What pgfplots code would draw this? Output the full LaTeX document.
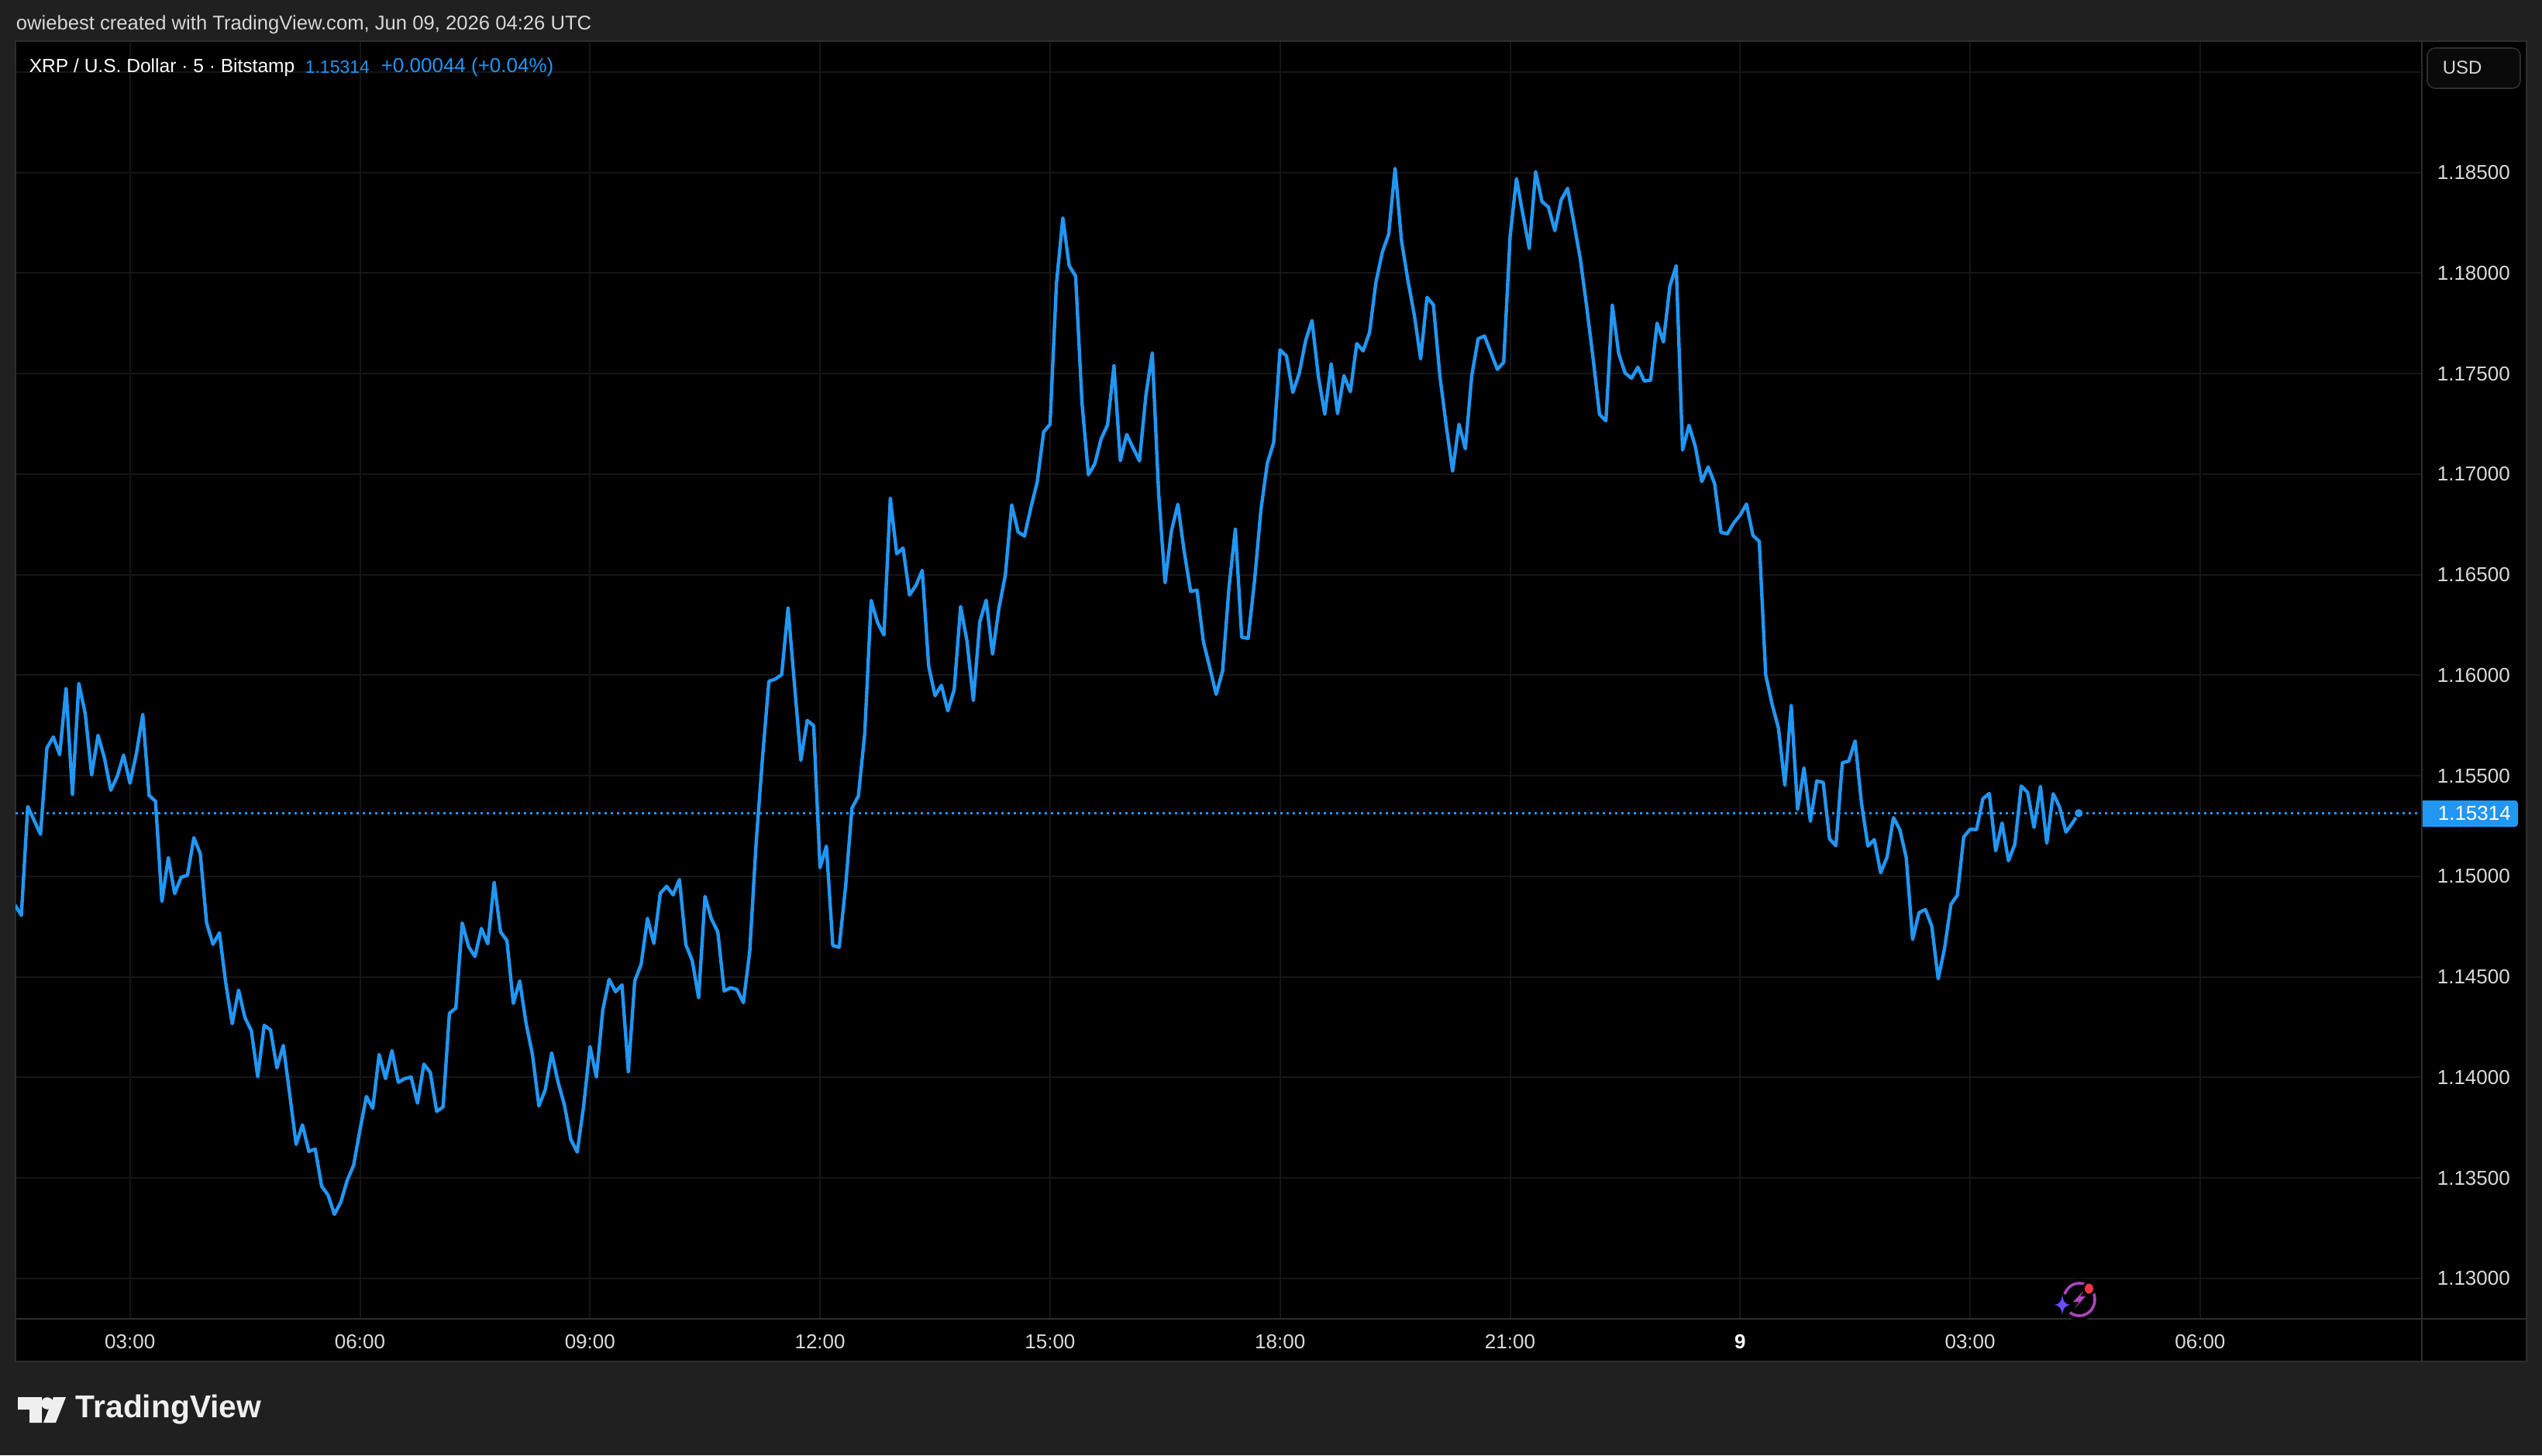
\documentclass[border=0pt]{standalone}
\usepackage{fontspec}
\setmainfont{Liberation Sans}
\usepackage{pgfplots}
\pgfplotsset{compat=1.18}
\usepackage{pgfplotstable}
\definecolor{pagebg}{HTML}{202020}
\definecolor{frameline}{HTML}{2E2E2E}
\definecolor{gridc}{HTML}{161616}
\definecolor{tvblue}{HTML}{2196F3}
\definecolor{ticktxt}{HTML}{DBDBDB}
\definecolor{hdrtxt}{HTML}{D6D6D6}
\definecolor{ringc}{HTML}{AB47BC}
\definecolor{starc}{HTML}{6A4CFF}
\definecolor{redc}{HTML}{F23645}
\pgfplotstableread{
t p
-18 1.14857
-17 1.14806
-16 1.15347
-15 1.15278
-14 1.15209
-13 1.15638
-12 1.15693
-11 1.15605
-10 1.15933
-9 1.15408
-8 1.15959
-7 1.15809
-6 1.15504
-5 1.15701
-4 1.15589
-3 1.15428
-2 1.15496
-1 1.15603
0 1.15463
1 1.15609
2 1.15805
3 1.15402
4 1.15373
5 1.14875
6 1.15093
7 1.14914
8 1.14995
9 1.15005
10 1.15192
11 1.15113
12 1.14767
13 1.14662
14 1.14719
15 1.14468
16 1.14267
17 1.14434
18 1.14297
19 1.14232
20 1.14003
21 1.14259
22 1.14236
23 1.14047
24 1.14159
25 1.13917
26 1.13667
27 1.13764
28 1.13632
29 1.13644
30 1.13459
31 1.13415
32 1.13319
33 1.13380
34 1.13488
35 1.13563
36 1.13740
37 1.13905
38 1.13846
39 1.14114
40 1.13994
41 1.14133
42 1.13976
43 1.13994
44 1.14002
45 1.13872
46 1.14066
47 1.14025
48 1.13831
49 1.13853
50 1.14319
51 1.14345
52 1.14768
53 1.14650
54 1.14601
55 1.14741
56 1.14664
57 1.14970
58 1.14724
59 1.14680
60 1.14368
61 1.14480
62 1.14268
63 1.14112
64 1.13858
65 1.13939
66 1.14122
67 1.13977
68 1.13862
69 1.13691
70 1.13629
71 1.13856
72 1.14153
73 1.14002
74 1.14335
75 1.14488
76 1.14426
77 1.14460
78 1.14029
79 1.14480
80 1.14562
81 1.14791
82 1.14666
83 1.14916
84 1.14950
85 1.14908
86 1.14984
87 1.14660
88 1.14581
89 1.14396
90 1.14900
91 1.14788
92 1.14724
93 1.14430
94 1.14446
95 1.14437
96 1.14372
97 1.14626
98 1.15166
99 1.15590
100 1.15970
101 1.15981
102 1.16003
103 1.16334
104 1.15955
105 1.15577
106 1.15775
107 1.15749
108 1.15043
109 1.15150
110 1.14656
111 1.14647
112 1.14948
113 1.15339
114 1.15399
115 1.15709
116 1.16372
117 1.16262
118 1.16200
119 1.16879
120 1.16604
121 1.16632
122 1.16399
123 1.16446
124 1.16521
125 1.16046
126 1.15898
127 1.15950
128 1.15823
129 1.15929
130 1.16342
131 1.16170
132 1.15874
133 1.16265
134 1.16373
135 1.16105
136 1.16334
137 1.16497
138 1.16847
139 1.16712
140 1.16692
141 1.16833
142 1.16962
143 1.17210
144 1.17248
145 1.17946
146 1.18274
147 1.18036
148 1.17985
149 1.17354
150 1.16997
151 1.17051
152 1.17176
153 1.17245
154 1.17539
155 1.17067
156 1.17197
157 1.17130
158 1.17066
159 1.17391
160 1.17603
161 1.16900
162 1.16460
163 1.16718
164 1.16850
165 1.16614
166 1.16417
167 1.16423
168 1.16167
169 1.16038
170 1.15905
171 1.16021
172 1.16434
173 1.16726
174 1.16189
175 1.16183
176 1.16468
177 1.16821
178 1.17053
179 1.17157
180 1.17618
181 1.17587
182 1.17406
183 1.17501
184 1.17664
185 1.17764
186 1.17484
187 1.17298
188 1.17549
189 1.17301
190 1.17490
191 1.17410
192 1.17649
193 1.17613
194 1.17704
195 1.17953
196 1.18103
197 1.18193
198 1.18520
199 1.18163
200 1.17965
201 1.17793
202 1.17573
203 1.17879
204 1.17842
205 1.17492
206 1.17243
207 1.17015
208 1.17248
209 1.17126
210 1.17489
211 1.17673
212 1.17687
213 1.17604
214 1.17521
215 1.17556
216 1.18181
217 1.18469
218 1.18293
219 1.18122
220 1.18504
221 1.18355
222 1.18328
223 1.18211
224 1.18364
225 1.18421
226 1.18248
227 1.18068
228 1.17830
229 1.17573
230 1.17297
231 1.17265
232 1.17841
233 1.17599
234 1.17503
235 1.17477
236 1.17532
237 1.17463
238 1.17467
239 1.17751
240 1.17657
241 1.17933
242 1.18036
243 1.17120
244 1.17243
245 1.17136
246 1.16963
247 1.17036
248 1.16954
249 1.16711
250 1.16703
251 1.16757
252 1.16796
253 1.16851
254 1.16696
255 1.16665
256 1.16003
257 1.15857
258 1.15737
259 1.15453
260 1.15849
261 1.15333
262 1.15539
263 1.15274
264 1.15474
265 1.15467
266 1.15186
267 1.15152
268 1.15565
269 1.15573
270 1.15673
271 1.15363
272 1.15151
273 1.15183
274 1.15018
275 1.15095
276 1.15292
277 1.15232
278 1.15093
279 1.14686
280 1.14819
281 1.14835
282 1.14752
283 1.14490
284 1.14642
285 1.14861
286 1.14906
287 1.15196
288 1.15234
289 1.15232
290 1.15386
291 1.15412
292 1.15127
293 1.15265
294 1.15077
295 1.15160
296 1.15449
297 1.15417
298 1.15243
299 1.15447
300 1.15165
301 1.15411
302 1.15344
303 1.15220
304 1.15264
305 1.15314
}\xrpdata
\newcommand{\tfs}{\fontsize{6.5pt}{7.8pt}\selectfont}
\begin{document}
\begin{tikzpicture}[x=1pt,y=1pt]
\useasboundingbox (0,0) rectangle (820pt,469.5pt);
\fill[pagebg] (0,0) rectangle (820pt,469.5pt);
\begin{scope}[x=0.25pt,y=-0.25pt,shift={(0pt,469.5pt)}]
  \fill[black] (20,53) rectangle (3260,1757);
  \draw[frameline,line width=0.5pt] (20,53) rectangle (3260,1757);
\end{scope}
\begin{axis}[
  at={(5pt,44pt)},anchor=south west,
  scale only axis,width=776.2pt,height=412.2pt,
  xmin=-17.916,xmax=358.68,
  ymin=1.127994,ymax=1.191528,
  xtick={0,36,72,108,144,180,216,252,288,324},
  xticklabels={03:00,06:00,09:00,12:00,15:00,18:00,21:00,\textbf{\textcolor{white}{9}},03:00,06:00},
  ytick={1.13,1.135,1.14,1.145,1.15,1.155,1.16,1.165,1.17,1.175,1.18,1.185},
  extra y ticks={1.19},
  extra y tick labels={},
  ticklabel pos=right,
  yticklabel pos=right,
  xticklabel pos=bottom,
  y tick label style={/pgf/number format/fixed,/pgf/number format/fixed zerofill,/pgf/number format/precision=5,/pgf/number format/assume math mode=true,font=\tfs,text=ticktxt},
  x tick label style={font=\tfs,text=ticktxt},
  xtick style={draw=none},ytick style={draw=none},
  major tick length=0pt,
  scaled y ticks=false,
  tick label style={inner sep=0pt,outer sep=0pt},
  xticklabel shift=5pt,
  yticklabel shift=5pt,
  xmajorgrids,ymajorgrids,
  major grid style={gridc,line width=0.5pt},
  axis line style={frameline,line width=0.5pt},
]
\addplot[tvblue,line width=0.7pt,dash pattern=on 0.7pt off 1.3pt,forget plot] coordinates {(-17.916,1.15314) (358,1.15314)};
\addplot[tvblue,line width=1.1pt,line join=round,forget plot] table[x=t,y=p] {\xrpdata};
\addplot[only marks,mark=*,mark size=1.5pt,mark options={fill=tvblue,draw=none},forget plot] coordinates {(305,1.15314)};
\end{axis}
\begin{scope}[x=0.25pt,y=-0.25pt,shift={(0pt,469.5pt)}]
  % right panel separators
  \draw[frameline,line width=0.5pt] (3125,1702) -- (3260,1702);
  \draw[frameline,line width=0.5pt] (3125,1702) -- (3125,1757);
  % currency box
  \draw[frameline,fill=black!70!pagebg,rounded corners=2.5pt,line width=0.4pt] (3132,62) rectangle (3252,114);
  \node[anchor=west,inner sep=0pt,text=hdrtxt,font=\fontsize{6pt}{7pt}\selectfont] at (3151,87.5) {USD};
  % last price
  \fill[tvblue,rounded corners=1pt] (3126,1033) rectangle (3249,1067);
  \fill[tvblue] (3126,1033) rectangle (3135,1067);
  \node[anchor=west,inner sep=0pt,text=white,font=\tfs] at (3145,1050) {1.15314};
  % top texts
  \node[anchor=west,inner sep=0pt,text=hdrtxt,font=\fontsize{6.41pt}{7.5pt}\selectfont] at (20,32) {owiebest created with TradingView.com, Jun 09, 2026 04:26 UTC};
  \node[anchor=west,inner sep=0pt,text=white,font=\fontsize{6.14pt}{7.5pt}\selectfont] at (37,87) {XRP / U.S. Dollar · 5 · Bitstamp};
  \node[anchor=west,inner sep=0pt,text=tvblue,font=\fontsize{5.75pt}{7.5pt}\selectfont] at (393,87) {1.15314};
  \node[anchor=west,inner sep=0pt,text=tvblue,font=\fontsize{6.5pt}{7.5pt}\selectfont] at (491,87) {+0.00044 (+0.04\%)};
  % assistant icon
  \fill[black] (2683,1677) ellipse (26 and 27);
  \fill[black] (2661,1684) circle (15);
  \draw[ringc,line width=0.9pt] (2683,1677) ellipse (20 and 21);
  \fill[ringc] (2690,1664) -- (2675,1680) -- (2683,1680) -- (2676,1690) -- (2691,1673) -- (2684,1673) -- cycle;
  \fill[black] (2661,1684) circle (14);
  \fill[starc] (2661,1670) .. controls (2662,1680) and (2664,1683) .. (2672,1684) .. controls (2664,1685) and (2662,1688) .. (2661,1698) .. controls (2660,1688) and (2658,1685) .. (2650,1684) .. controls (2658,1683) and (2660,1680) .. (2661,1670) -- cycle;
  \fill[black] (2695.5,1663) circle (9);
  \fill[redc] (2695.5,1663) ellipse (5.5 and 6.5);
  % TradingView logo
  \fill[hdrtxt!40!white] (23,1803) -- (54,1803) -- (54,1836) -- (38,1836) -- (38,1819) -- (23,1819) -- cycle;
  \fill[hdrtxt!40!white] (61,1811) circle (7.8);
  \fill[hdrtxt!40!white] (85,1803) -- (72,1836) -- (56,1836) -- (69,1803) -- cycle;
  \node[anchor=west,inner sep=0pt,text=hdrtxt!40!white,font=\fontsize{10.2pt}{12pt}\selectfont\bfseries] at (97,1819) {TradingView};
\end{scope}
\end{tikzpicture}
\end{document}
